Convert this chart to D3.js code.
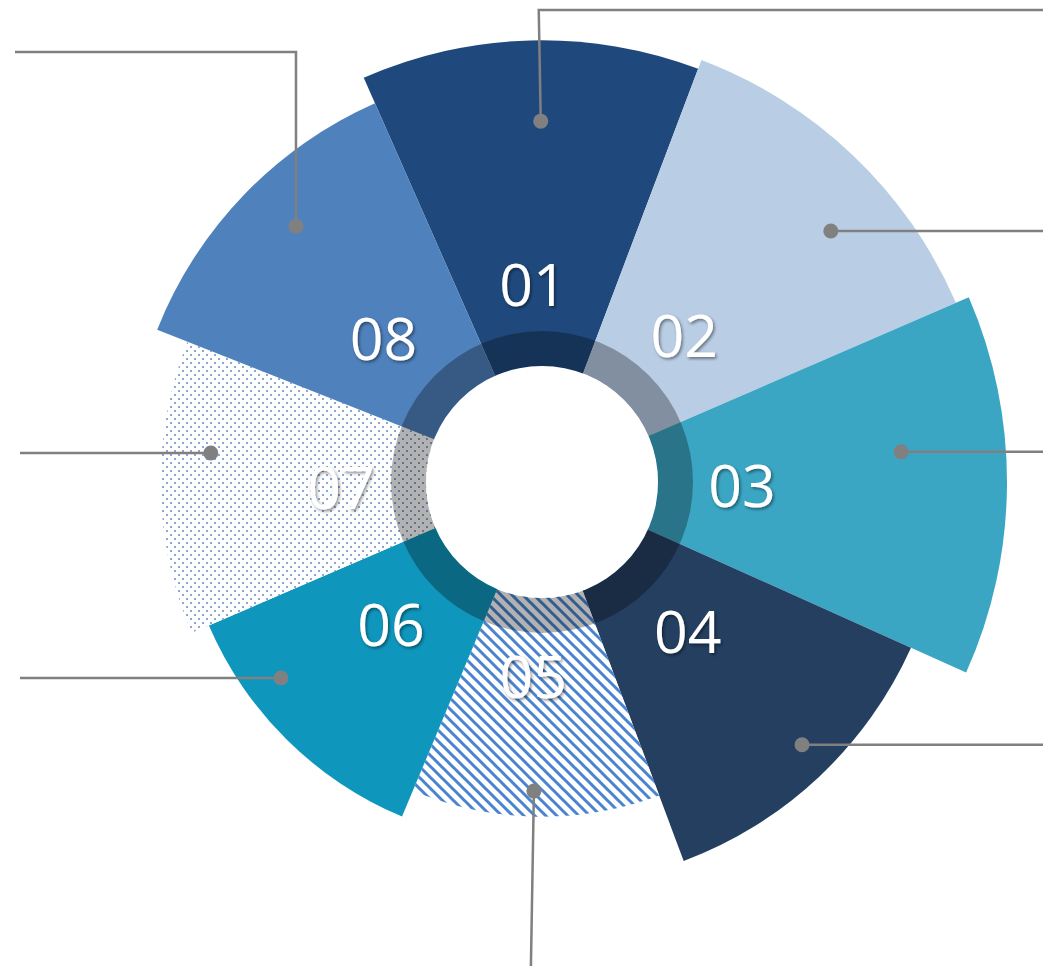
<!DOCTYPE html>
<html>
<head>
<meta charset="utf-8">
<script src="https://cdn.jsdelivr.net/npm/d3@7"></script>
<style>
  html, body { margin: 0; padding: 0; background: #fff; overflow: hidden; }
</style>
</head>
<body>
<svg id="svg"></svg>
<script>
// chart data
const labels = ["01", "02", "03", "04", "05", "06", "07", "08"];
const values = [95, 97, 100, 87, 72, 78, 82, 89];
// angular width of each sector (degrees)
const spans = [44.5, 45.9, 47.6, 45.3, 43.2, 44.0, 44.9, 44.6];
const fills = ["#1F497D", "#B9CDE5", "#3BA6C3", "#243F60", "url(#stripes)", "#0F96BC", "url(#dots)", "#4F81BD"];

// label placement: angle (deg, clockwise from top) and distance (px)
const labelAngles = [-2.6, 44.2, 91.1, 135.8, 182.6, 226.6, 268.3, 312.2];
const labelDist = [197, 204, 200, 209, 195, 208, 201, 214];

// callout anchors: angle (deg) and distance in value units
const calloutAngles = [-0.2, 49, 85.2, 135.3, 181.5, 233.1, 275, 316.1];
const calloutDist = [77.6, 82.3, 77.5, 79.5, 66.5, 70.2, 71.5, 76.3];
// how each leader line leaves the chart
const calloutRoute = ["upRight", "right", "right", "right", "down", "left", "left", "upLeft"];

const width = 1043;
const height = 966;
const cx = 542, cy = 482;
const holeR = 116, ringR = 151;
const rad = Math.PI / 180;

const svg = d3.select("#svg")
  .attr("width", width)
  .attr("height", height);

const defs = svg.append("defs");

// diagonal stripes for 05
const stripes = defs.append("pattern")
  .attr("id", "stripes")
  .attr("patternUnits", "userSpaceOnUse")
  .attr("width", 11)
  .attr("height", 11);
stripes.append("rect").attr("width", 11).attr("height", 11).attr("fill", "#fff");
stripes.append("path")
  .attr("d", "M-3,-3 L14,14 M-3,8 L3,14 M8,-3 L14,3")
  .attr("stroke", "#4A84D0")
  .attr("stroke-width", 3);

// dotted fill for 07
const dots = defs.append("pattern")
  .attr("id", "dots")
  .attr("patternUnits", "userSpaceOnUse")
  .attr("width", 8)
  .attr("height", 8);
dots.append("rect").attr("width", 8).attr("height", 8).attr("fill", "#fff");
dots.append("rect").attr("x", 0).attr("y", 0).attr("width", 2).attr("height", 2).attr("fill", "#8CA9D3");
dots.append("rect").attr("x", 4).attr("y", 4).attr("width", 2).attr("height", 2).attr("fill", "#8CA9D3");

const shadow = defs.append("filter")
  .attr("id", "shadow")
  .attr("x", "-20%").attr("y", "-20%")
  .attr("width", "150%").attr("height", "150%");
shadow.append("feDropShadow")
  .attr("dx", 1.5).attr("dy", 1.8)
  .attr("stdDeviation", 1.4)
  .attr("flood-color", "#000")
  .attr("flood-opacity", 0.45);

// SCALES
const rScale = d3.scaleLinear()
  .domain([0, 100])
  .range([0, 465]);

const dataArray = labels.map((label, i) => ({
  label: label,
  value: values[i],
  span: spans[i],
  fill: fills[i],
  lAngle: labelAngles[i] * rad,
  lDist: labelDist[i],
  cAngle: calloutAngles[i] * rad,
  cDist: calloutDist[i],
  route: calloutRoute[i]
}));

const start = -23.8 * rad;
const pie = d3.pie()
  .sort(null)
  .value(d => d.span)
  .startAngle(start)
  .endAngle(start + 2 * Math.PI);

const arc = d3.arc()
  .innerRadius(0)
  .outerRadius(d => rScale(d.data.value));

const g = svg.append("g")
  .attr("transform", `translate(${cx}, ${cy})`);

// SECTORS
g.selectAll(".sector")
  .data(pie(dataArray))
  .enter()
  .append("path")
  .attr("class", "sector")
  .attr("d", arc)
  .attr("fill", d => d.data.fill);

// dark ring + white hole
g.append("path")
  .attr("d", d3.arc()({ innerRadius: holeR, outerRadius: ringR, startAngle: 0, endAngle: 2 * Math.PI }))
  .attr("fill", "#000")
  .attr("opacity", 0.3);

g.append("circle")
  .attr("r", holeR)
  .attr("fill", "#fff");

// LABELS
g.selectAll(".sector-label")
  .data(dataArray)
  .enter()
  .append("text")
  .attr("class", "sector-label")
  .attr("x", d => d.lDist * Math.sin(d.lAngle))
  .attr("y", d => -d.lDist * Math.cos(d.lAngle))
  .attr("dy", "0.36em")
  .attr("text-anchor", "middle")
  .attr("font-family", "'Open Sans', sans-serif")
  .attr("font-size", "59px")
  .attr("fill", "#fff")
  .attr("filter", "url(#shadow)")
  .text(d => d.label);

// CALLOUTS
const lineColor = "#808080";
const calloutGroup = svg.append("g");

function anchor(d) {
  const r = rScale(d.cDist);
  return [cx + r * Math.sin(d.cAngle), cy - r * Math.cos(d.cAngle)];
}

function leader(d) {
  const [x, y] = anchor(d);
  switch (d.route) {
    case "right": return `M${x},${y} H${width}`;
    case "left": return `M${x},${y} H20`;
    case "down": return `M${x},${y} L${x - 3},${height}`;
    case "upRight": return `M${x},${y} L${x - 2},10 H${width}`;
    case "upLeft": return `M${x},${y} V52 H15`;
  }
}

calloutGroup.selectAll(".leader")
  .data(dataArray)
  .enter()
  .append("path")
  .attr("class", "leader")
  .attr("d", leader)
  .attr("fill", "none")
  .attr("stroke", lineColor)
  .attr("stroke-width", 2.5);

calloutGroup.selectAll(".anchor-dot")
  .data(dataArray)
  .enter()
  .append("circle")
  .attr("class", "anchor-dot")
  .attr("cx", d => anchor(d)[0])
  .attr("cy", d => anchor(d)[1])
  .attr("r", 7.5)
  .attr("fill", lineColor);
</script>
</body>
</html>
